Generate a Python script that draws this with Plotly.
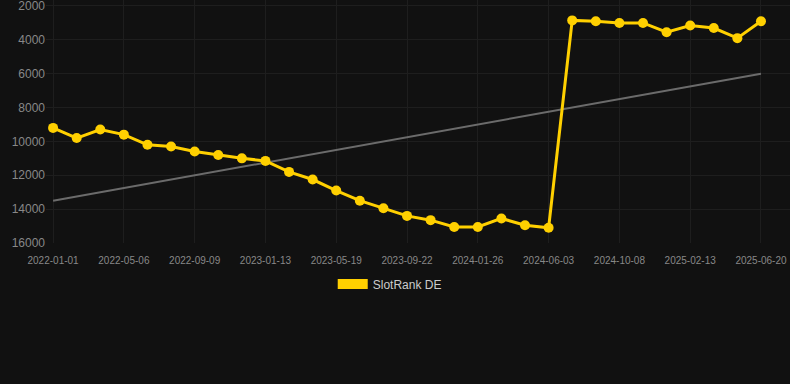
import plotly.graph_objects as go

dates = [
    "2022-01-01", "2022-02-12", "2022-03-26", "2022-05-06", "2022-06-17", "2022-07-29",
    "2022-09-09", "2022-10-21", "2022-12-02", "2023-01-13", "2023-02-24", "2023-04-07",
    "2023-05-19", "2023-06-30", "2023-08-11", "2023-09-22", "2023-11-03", "2023-12-15",
    "2024-01-26", "2024-03-08", "2024-04-19", "2024-06-03", "2024-07-15", "2024-08-26",
    "2024-10-08", "2024-11-19", "2024-12-31", "2025-02-13", "2025-03-27", "2025-05-08",
    "2025-06-20",
]
rank_de = [
    9200, 9800, 9300, 9600, 10200, 10300, 10600, 10800, 11000, 11150, 11800, 12250,
    12900, 13500, 13950, 14400, 14650, 15050, 15050, 14550, 14950, 15100, 2850, 2900,
    3000, 3000, 3550, 3150, 3300, 3900, 2900,
]
trend_dates = ["2022-01-01", "2025-06-20"]
trend_values = [13500, 6000]
tick_labels = dates[::3]
y_ticks = [2000, 4000, 6000, 8000, 10000, 12000, 14000, 16000]
y_tick_text = [str(v) for v in y_ticks]

fig = go.Figure()
fig.add_trace(go.Scatter(
    x=trend_dates, y=trend_values, mode="lines",
    line=dict(color="#6b6b6b", width=2), showlegend=False, hoverinfo="skip",
))
fig.add_trace(go.Scatter(
    x=dates, y=rank_de, mode="lines+markers", name="SlotRank DE",
    line=dict(color="#FFD000", width=3), marker=dict(color="#FFD000", size=10),
    showlegend=False,
))
fig.add_trace(go.Scatter(
    x=[None], y=[None], mode="lines", name="SlotRank DE",
    line=dict(color="#FFD000", width=12), showlegend=True,
))

fig.update_layout(
    width=790, height=384,
    paper_bgcolor="#111111", plot_bgcolor="#111111",
    margin=dict(l=46, r=0, t=0, b=141, autoexpand=False),
    font=dict(family="Liberation Sans, Arial, sans-serif", color="#888888", size=11),
    legend=dict(orientation="h", x=0.462, xanchor="center", y=-0.169, yanchor="middle",
                font=dict(color="#cccccc", size=12), bgcolor="rgba(0,0,0,0)"),
    hovermode=False,
)
fig.update_xaxes(
    type="category", categoryorder="array", categoryarray=dates,
    range=[-0.3, 31.23], tickvals=tick_labels, ticktext=tick_labels,
    showgrid=True, gridcolor="#1e1e1e", gridwidth=1, automargin=False,
    showline=False, zeroline=False, ticks="", ticklabelstandoff=10,
    tickfont=dict(size=10, color="#888888"),
)
fig.update_yaxes(
    range=[16000, 1646], tickvals=y_ticks, ticktext=y_tick_text, automargin=False,
    showgrid=True, gridcolor="#1e1e1e", gridwidth=1, ticklabeloverflow="allow",
    zeroline=False, showline=False, ticks="", tickfont=dict(size=12, color="#888888"),
)

fig.write_html(
    "out.html",
    config={"displayModeBar": False, "staticPlot": True},
    post_script="document.body.style.margin='0';document.body.style.background='#111111';",
)
